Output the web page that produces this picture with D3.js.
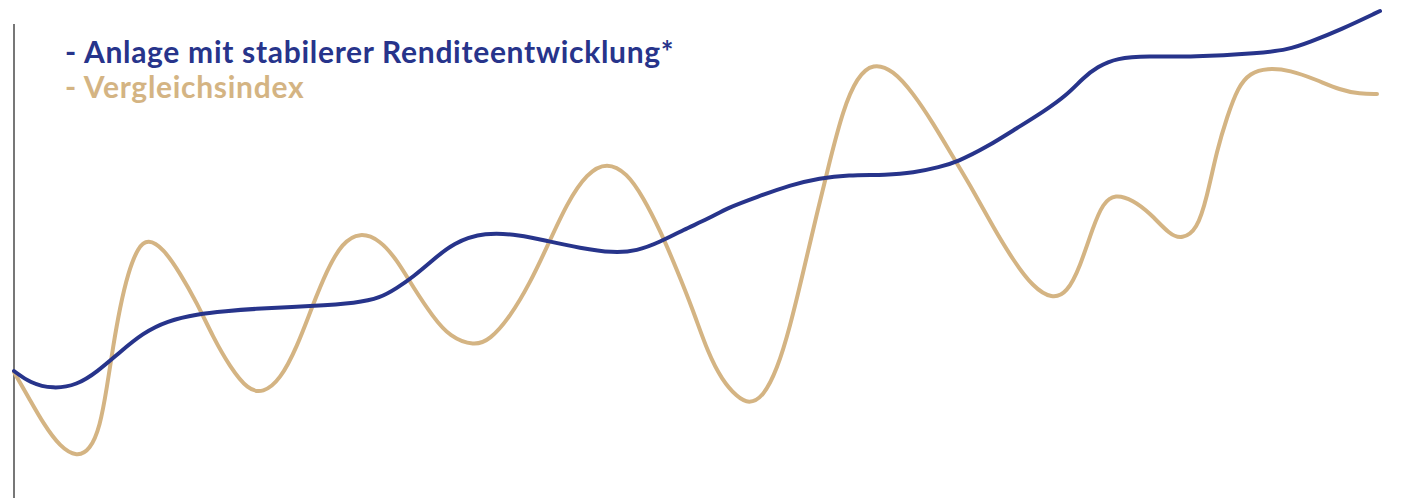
<!DOCTYPE html>
<html>
<head>
<meta charset="utf-8">
<script src="https://cdn.jsdelivr.net/npm/d3@7"></script>
<style>
  html, body { margin: 0; padding: 0; background: #ffffff; }
  svg { display: block; }
</style>
</head>
<body>
<svg id="chart" width="1402" height="498"></svg>
<script>
// ---- data ----
const seriesNames = ["- Anlage mit stabilerer Renditeentwicklung*", "- Vergleichsindex"];
const seriesColors = ["#27348b", "#d4b483"];

// x positions (time units) and values for the stable investment
const anlageX = [0, 16, 39, 63, 83, 106, 129, 153, 183, 213, 236, 299, 343, 366, 383, 399, 419, 439, 471, 506, 533, 566, 599, 623, 646, 669, 696, 713, 743, 776, 806, 833, 873, 899, 926, 943, 973, 1003, 1029, 1053, 1069, 1083, 1103, 1133, 1179, 1246, 1273, 1296, 1326, 1366];
const anlageY = [127, 115, 109, 113, 126, 146, 165, 177, 184, 187, 189, 192, 195, 200, 210, 221, 238, 255, 266, 263, 257, 250, 245, 247, 256, 268, 280, 290, 301, 313, 320, 323, 323, 325, 331, 336, 351, 370, 386, 403, 420, 431, 440, 442, 441, 445, 448, 456, 468, 487];

// x positions and values for the comparison index
const indexX = [0, 16, 29, 46, 63, 76, 86, 93, 99, 106, 114, 124, 134, 149, 166, 183, 199, 216, 234, 249, 266, 283, 298, 313, 328, 346, 366, 383, 399, 419, 436, 460, 476, 496, 516, 533, 553, 573, 593, 613, 629, 646, 663, 679, 694, 708, 723, 735, 749, 763, 776, 789, 803, 816, 829, 843, 859, 879, 899, 919, 939, 959, 979, 999, 1019, 1038, 1053, 1066, 1079, 1089, 1101, 1119, 1136, 1156, 1168, 1183, 1193, 1203, 1213, 1224, 1236, 1253, 1276, 1303, 1326, 1346, 1363];
const indexY = [126, 98, 75, 51, 41, 48, 71, 111, 151, 191, 225, 251, 259, 250, 225, 195, 161, 131, 108, 105, 118, 151, 191, 228, 255, 266, 258, 238, 211, 181, 161, 152, 158, 181, 215, 251, 295, 325, 336, 325, 301, 268, 228, 188, 145, 118, 101, 94, 101, 128, 171, 225, 285, 338, 388, 421, 435, 428, 405, 375, 341, 308, 271, 238, 211, 199, 205, 231, 271, 295, 304, 298, 285, 263, 259, 268, 301, 348, 381, 411, 425, 430, 428, 418, 408, 404, 404];

// ---- drawing ----
const W = 1402, H = 498;
const svg = d3.select("#chart");

const x = d3.scaleLinear().domain([0, 1366]).range([14, 1380]);
const y = d3.scaleLinear().domain([0, 498]).range([498, 0]);

// vertical axis
svg.append("line")
  .attr("x1", 14).attr("x2", 14)
  .attr("y1", 24).attr("y2", H)
  .attr("stroke", "#555555")
  .attr("stroke-width", 1.6);

const line = d3.line()
  .x(d => x(d[0]))
  .y(d => y(d[1]))
  .curve(d3.curveBasis);

const idxData = d3.zip(indexX, indexY);
const anlData = d3.zip(anlageX, anlageY);

svg.append("path")
  .datum(idxData)
  .attr("fill", "none")
  .attr("stroke", seriesColors[1])
  .attr("stroke-width", 4)
  .attr("stroke-linecap", "round")
  .attr("stroke-linejoin", "round")
  .attr("d", line);

svg.append("path")
  .datum(anlData)
  .attr("fill", "none")
  .attr("stroke", seriesColors[0])
  .attr("stroke-width", 4)
  .attr("stroke-linecap", "round")
  .attr("stroke-linejoin", "round")
  .attr("d", line);

// legend
const legend = svg.append("g");
seriesNames.forEach((name, i) => {
  legend.append("text")
    .attr("x", 65)
    .attr("y", 63 + i * 35)
    .attr("fill", seriesColors[i])
    .attr("font-family", "Lato, 'Open Sans', sans-serif")
    .attr("font-weight", 700)
    .attr("font-size", 30)
    .attr("letter-spacing", 0.7)
    .text(name);
});
</script>
</body>
</html>
